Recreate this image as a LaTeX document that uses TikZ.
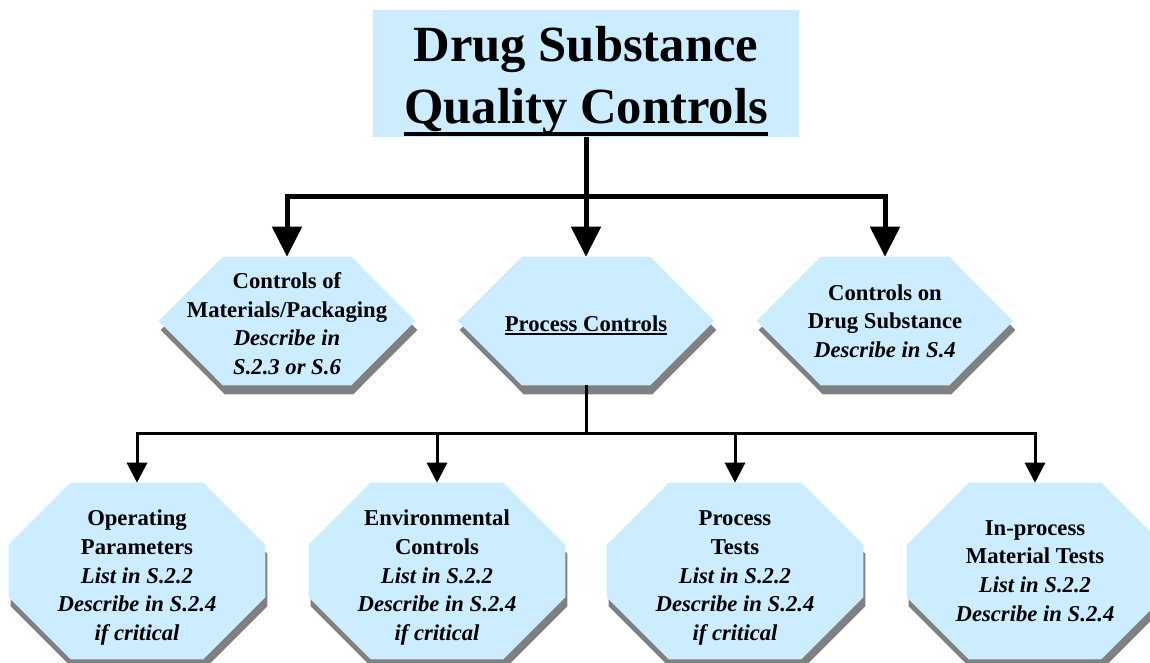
\documentclass[tikz,border=0pt]{standalone}
\usepackage{fontspec}
\setmainfont{Liberation Serif}
\usetikzlibrary{calc,arrows.meta,backgrounds}

\definecolor{boxblue}{RGB}{204,236,255}
\definecolor{shadegray}{RGB}{128,128,128}

\newsavebox{\undlbox}
\newcommand{\undl}[3]{\sbox{\undlbox}{#3}\rlap{\rule[-#1]{\wd\undlbox}{#2}}\usebox{\undlbox}}
\newcommand{\lowstart}[1]{\rule{0pt}{#1}}
% outlines round a named node, #2 is the shift
\newcommand{\hexpath}[2]{($(#1.west)+(#2)$) -- ($(#1.north west)+(64,0)+(#2)$) -- ($(#1.north east)+(-64,0)+(#2)$) -- ($(#1.east)+(#2)$) -- ($(#1.south east)+(-64,0)+(#2)$) -- ($(#1.south west)+(64,0)+(#2)$) -- cycle}
\newcommand{\octpath}[2]{($(#1.north west)+(62,0)+(#2)$) -- ($(#1.north east)+(-62,0)+(#2)$) -- ($(#1.north east)+(0,62)+(#2)$) -- ($(#1.south east)+(0,-62)+(#2)$) -- ($(#1.south east)+(-62,0)+(#2)$) -- ($(#1.south west)+(62,0)+(#2)$) -- ($(#1.south west)+(0,-62)+(#2)$) -- ($(#1.north west)+(0,62)+(#2)$) -- cycle}

\begin{document}
\begin{tikzpicture}[x=0.75pt,y=0.75pt,yscale=-1,xscale=1,
  txt/.style={inner sep=0pt,align=center,font=\bfseries\fontsize{17}{21.5}\selectfont},
  hexnode/.style={txt,minimum width=192pt,minimum height=96pt},
  octnode/.style={txt,minimum width=192pt,minimum height=132pt},
  trunk/.style={line width=3.75pt,-{Triangle[length=22.5pt,width=21.75pt]}},
  branch/.style={line width=2.25pt,-{Triangle[length=15pt,width=15pt]}}]
\useasboundingbox (0,0) rectangle (1150,663);

%Title
\node (title) [fill=boxblue,inner sep=0pt,minimum width=319.5pt,minimum height=95.25pt,align=center,
  font=\bfseries\fontsize{38}{46}\selectfont] at (586,73.5) {\lowstart{38pt}Drug Substance\\\undl{9.5pt}{3pt}{Quality Controls}};

%Shape: Hexagon
\node (hexL) [hexnode] at (287,321) {\lowstart{16pt}Controls of\\Materials/Packaging\\\textit{Describe in}\\\textit{S.2.3 or S.6}};
\node (hexM) [hexnode] at (586,321) {\lowstart{18pt}\undl{3pt}{1.2pt}{Process Controls}};
\node (hexR) [hexnode] at (885,321) {Controls on\\Drug Substance\\\textit{Describe in S.4}};

%Shape: Octagon
\node (octA) [octnode] at (137,571) {\lowstart{22pt}Operating\\Parameters\\\textit{List in S.2.2}\\\textit{Describe in S.2.4}\\\textit{if critical}};
\node (octB) [octnode] at (437,571) {\lowstart{22pt}Environmental\\Controls\\\textit{List in S.2.2}\\\textit{Describe in S.2.4}\\\textit{if critical}};
\node (octC) [octnode] at (735,571) {\lowstart{22pt}Process\\Tests\\\textit{List in S.2.2}\\\textit{Describe in S.2.4}\\\textit{if critical}};
\node (octD) [octnode] at (1035,571) {In-process\\Material Tests\\\textit{List in S.2.2}\\\textit{Describe in S.2.4}};

\begin{pgfonlayer}{background}
\foreach \n in {hexL,hexM,hexR} {
  \fill[shadegray] \hexpath{\n}{2,9};
  \fill[boxblue] \hexpath{\n}{0,0};
}
\foreach \n in {octA,octB,octC,octD} {
  \fill[shadegray] \octpath{\n}{2,9};
  \fill[boxblue] \octpath{\n}{0,0};
}
\end{pgfonlayer}

%Straight Lines
\coordinate (busTop) at (586,197);
\coordinate (busLow) at (586,433);
\draw[trunk] (title.south) -- (hexM.north);
\draw[trunk] (busTop) -| (hexL.north);
\draw[trunk] (busTop) -| (hexR.north);
\draw[line width=2.25pt] (hexM.south) -- (busLow);
\foreach \n in {octA,octB,octC,octD}
  \draw[branch] (busLow) -| (\n.north);
\end{tikzpicture}
\end{document}
